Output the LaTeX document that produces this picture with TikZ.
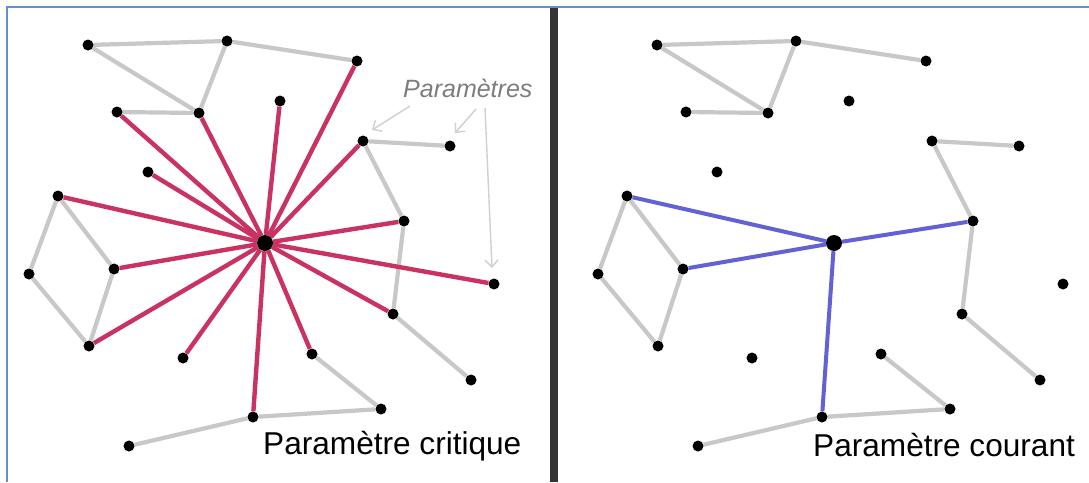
\documentclass[tikz,border=0pt]{standalone}
\usepackage{fontspec}
\setmainfont{Liberation Sans}
\usetikzlibrary{arrows.meta}
\pgfdeclarelayer{back}
\pgfdeclarelayer{bg}
\pgfsetlayers{back,bg,main}
\definecolor{critred}{RGB}{202,50,98}
\definecolor{curblue}{RGB}{98,98,212}
\definecolor{edgegrey}{RGB}{200,200,200}
\definecolor{notegrey}{RGB}{125,125,125}
\definecolor{arrowgrey}{RGB}{208,208,208}
\definecolor{framebl}{RGB}{100,145,210}
\definecolor{divider}{RGB}{52,52,52}
\tikzset{
  dot/.style={circle,fill=black,draw=none,inner sep=0pt,minimum size=11pt},
  hub/.style={circle,fill=black,draw=none,inner sep=0pt,minimum size=16pt},
  greyedge/.style={draw=edgegrey,line width=4.2pt},
  rededge/.style={draw=critred,line width=4.4pt},
  blueedge/.style={draw=curblue,line width=4pt},
  notearrow/.style={draw=arrowgrey,line width=1.4pt,-{Straight Barb[length=7pt,width=13pt]}},
  bigtext/.style={inner sep=0pt,anchor=base west,font=\fontsize{31.6}{36}\selectfont},
  notetext/.style={inner sep=0pt,anchor=base west,text=notegrey,font=\fontsize{25}{29}\selectfont\itshape},
}
\newcommand\mypanel[2]{%
  \begin{scope}[xshift=#2]
    \foreach \n/\x/\y in {a/88/45, b/227/41, c/357/61, d/117/112, e/199/113, f/280/101,
        g/363/141, h/450/146, i/148/172, j/58/196, k/404/221, l/29/274, m/114/269,
        n/494/284, o/393/314, p/89/346, q/183/358, r/312/354, s/471/380, t/381/409,
        u/253/417, v/129/446}
      {\node[dot] (#1\n) at (\x,\y) {};}
    \node[hub] (#1z) at (265,243) {};
    \begin{pgfonlayer}{bg}
      \foreach \u/\v in {a/b, b/c, a/e, b/e, d/e, g/h, g/k, k/o, o/s, r/t, u/t, u/v,
          j/l, j/m, l/p, m/p}
        {\draw[greyedge] (#1\u) -- (#1\v);}
    \end{pgfonlayer}
  \end{scope}}
\begin{document}
\begin{tikzpicture}[x=1pt,y=-1pt]
  \useasboundingbox (0,0) rectangle (1089,482);
  \begin{pgfonlayer}{back}
    \fill[white] (0,0) rectangle (1089,482);
  \end{pgfonlayer}
  % frame and divider
  \draw[framebl,line width=2pt] (7,482) -- (7,7) -- (1089,7);
  \fill[divider] (549.5,8) rectangle (557.5,482);
  % panels
  \mypanel{L}{0pt}
  \mypanel{R}{569pt}
  \begin{pgfonlayer}{bg}
    \foreach \v in {c,d,e,f,g,i,j,k,m,n,o,p,q,r,u}
      {\draw[rededge] (Lz) -- (L\v);}
    \foreach \v in {j,k,m,u}
      {\draw[blueedge] (Rz) -- (R\v);}
  \end{pgfonlayer}
  % labels
  \node[bigtext] (crit) at (263,454) {Paramètre critique};
  \node[bigtext] (cour) at (813,456) {Paramètre courant};
  \node[notetext] (params) at (403,97) {Paramètres};
  % note arrows
  \coordinate (s1) at (410,106);
  \coordinate (e1) at (372,130);
  \coordinate (s2) at (476,109);
  \coordinate (e2) at (455,133);
  \coordinate (s3) at (485,108);
  \coordinate (e3) at (492,268);
  \draw[notearrow] (s1) -- (e1);
  \draw[notearrow] (s2) -- (e2);
  \draw[notearrow] (s3) -- (e3);
\end{tikzpicture}
\end{document}
